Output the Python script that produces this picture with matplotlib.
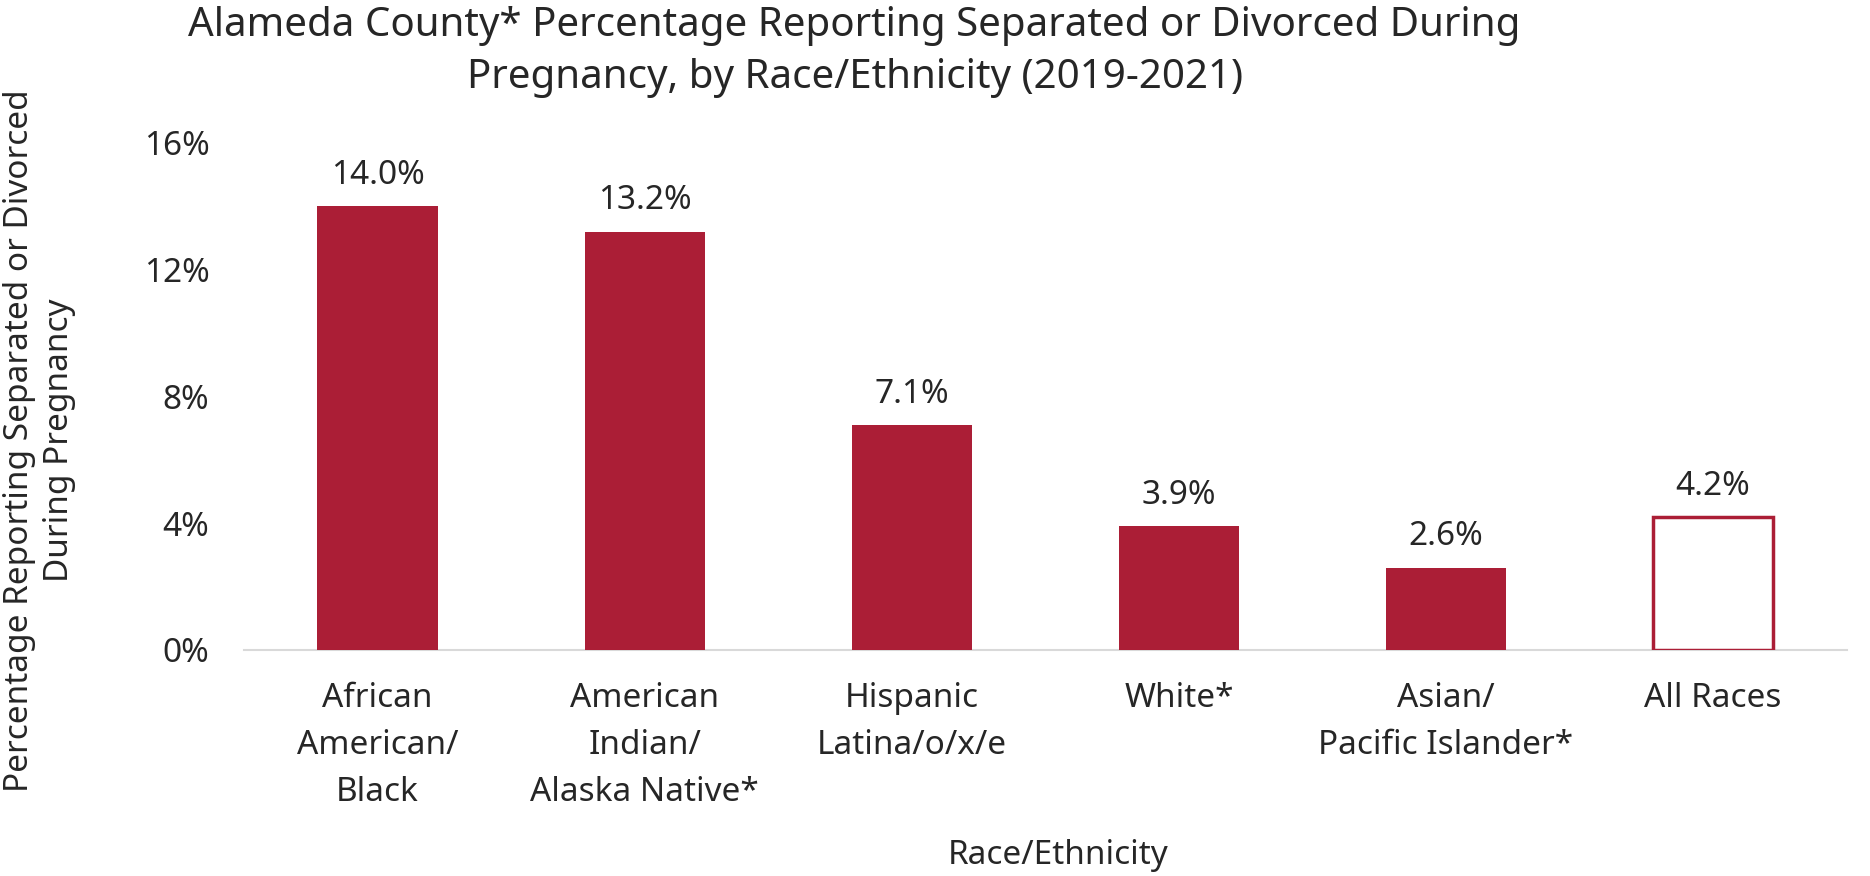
import numpy as np
import matplotlib.pyplot as plt

plt.rcParams['font.family'] = ['Noto Sans', 'DejaVu Sans']

# Daten
kategorien = ['African\nAmerican/\nBlack', 'American\nIndian/\nAlaska Native*',
              'Hispanic\nLatina/o/x/e', 'White*', 'Asian/\nPacific Islander*',
              'All Races']
werte = [14.0, 13.2, 7.1, 3.9, 2.6, 4.2]
y_ticks = [0, 4, 8, 12, 16]

rot = '#AB1E36'
text_farbe = '#262626'
fs = 24

fig = plt.figure(figsize=(18.7, 8.76), dpi=100, facecolor='w')
ax = fig.add_axes([0.1305, 0.258, 0.857, 0.579])

x = np.arange(len(kategorien))
farben = [rot] * (len(werte) - 1) + ['white']
bars = ax.bar(x, werte, width=0.45, color=farben, zorder=3)
# letzter Balken (All Races) nur mit Rand
bars[-1].set_edgecolor(rot)
bars[-1].set_linewidth(2.5)

# Werte ueber den Balken
for xi, w in zip(x, werte):
    ax.text(xi, w + 0.45, f'{w:.1f}%', ha='center', va='bottom',
            fontsize=fs, color=text_farbe)

ax.set_xlim(-0.5, len(kategorien) - 0.5)
ax.set_ylim(0, 16)
ax.set_yticks(y_ticks)
ax.set_yticklabels([f'{t}%' for t in y_ticks], fontsize=fs, color=text_farbe)
ax.set_xticks(x)
ax.set_xticklabels(kategorien, fontsize=fs, color=text_farbe, linespacing=1.56)
ax.tick_params(axis='both', length=0)
ax.tick_params(axis='x', pad=23)
ax.tick_params(axis='y', pad=25)

for s in ['top', 'right', 'left']:
    ax.spines[s].set_visible(False)
ax.spines['bottom'].set_color('#d9d9d9')
ax.spines['bottom'].set_linewidth(1.5)

# Titel und Achsenbeschriftungen
fig.text(0.457, 0.941, 'Alameda County* Percentage Reporting Separated or Divorced During\n'
         'Pregnancy, by Race/Ethnicity (2019-2021)', ha='center', va='center',
         fontsize=29, color=text_farbe, linespacing=1.4)
fig.text(0.021, 0.497, 'Percentage Reporting Separated or Divorced\nDuring Pregnancy',
         ha='center', va='center', rotation=90, fontsize=fs, color=text_farbe,
         linespacing=1.27)
fig.text(0.566, 0.023, 'Race/Ethnicity', ha='center', va='center',
         fontsize=fs, color=text_farbe)

fig.savefig('out.png', dpi=100, facecolor='w')
